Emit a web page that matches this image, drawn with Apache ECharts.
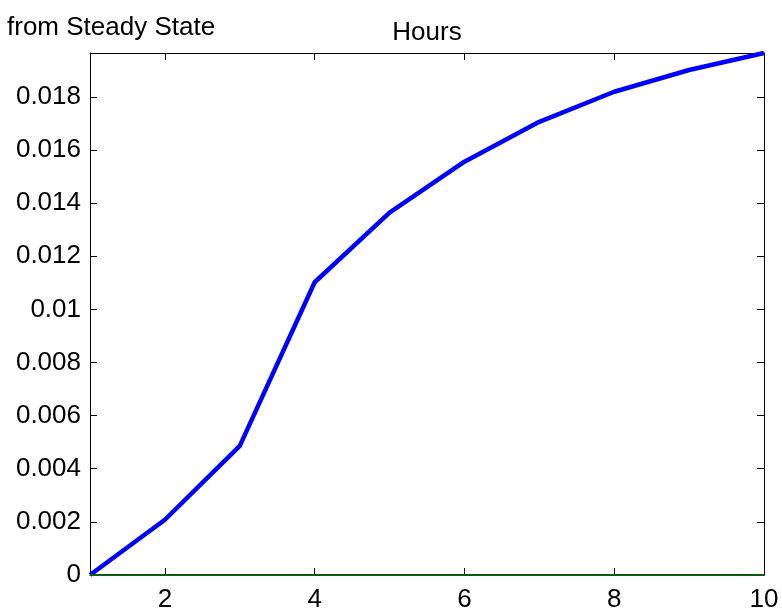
<!DOCTYPE html>
<html>
<head>
<meta charset="utf-8">
<script src="https://cdn.jsdelivr.net/npm/echarts@6/dist/echarts.min.js"></script>
<style>html,body{margin:0;padding:0;background:#fff;}#c{width:782px;height:613px;}</style>
</head>
<body>
<div id="c"></div>
<script>
const periods = [1, 2, 3, 4, 5, 6, 7, 8, 9, 10];
const hoursDeviation = [0, 0.00208, 0.00486, 0.01102, 0.01364, 0.01556, 0.01706, 0.01819, 0.01901, 0.01965];
const zeroLine = [0, 0, 0, 0, 0, 0, 0, 0, 0, 0];
const xTicks = [2, 4, 6, 8, 10];
const yTicks = [0, 0.002, 0.004, 0.006, 0.008, 0.01, 0.012, 0.014, 0.016, 0.018];
const titleText = 'Hours';
const yLabelText = 'from Steady State';

const FONT = '"Liberation Sans", Arial, Helvetica, sans-serif';
const FS = 26;
const yMax = hoursDeviation[hoursDeviation.length - 1];

const chart = echarts.init(document.getElementById('c'), null, {renderer: 'canvas'});
const axisLine = {show: true, onZero: false, lineStyle: {color: '#000', width: 1}};
const tick = {show: true, inside: true, length: 7, lineStyle: {color: '#000', width: 1}};

chart.setOption({
  animation: false,
  backgroundColor: '#fff',
  title: [
    {text: titleText, left: 427, top: 20, textAlign: 'center', padding: 0,
     textStyle: {fontFamily: FONT, fontSize: FS, fontWeight: 'normal', color: '#000'}},
    {text: yLabelText, left: 7, top: 15, padding: 0,
     textStyle: {fontFamily: FONT, fontSize: FS, fontWeight: 'normal', color: '#000'}}
  ],
  grid: {left: 90, right: 18, top: 53, bottom: 37, containLabel: false},
  xAxis: [
    {type: 'value', min: 1, max: 10, position: 'bottom',
     axisLine: axisLine,
     axisTick: Object.assign({}, tick, {customValues: xTicks}),
     axisLabel: {customValues: xTicks, margin: 12, fontFamily: FONT, fontSize: FS, color: '#000'},
     splitLine: {show: false}},
    {type: 'value', min: 1, max: 10, position: 'top',
     axisLine: axisLine,
     axisTick: Object.assign({}, tick, {customValues: xTicks}),
     axisLabel: {show: false},
     splitLine: {show: false}}
  ],
  yAxis: [
    {type: 'value', min: 0, max: yMax, position: 'left',
     axisLine: axisLine,
     axisTick: Object.assign({}, tick, {customValues: yTicks}),
     axisLabel: {customValues: yTicks, margin: 9, fontFamily: FONT, fontSize: FS, color: '#000',
       formatter: v => String(parseFloat(v.toFixed(4)))},
     splitLine: {show: false}},
    {type: 'value', min: 0, max: yMax, position: 'right',
     axisLine: axisLine,
     axisTick: Object.assign({}, tick, {customValues: yTicks}),
     axisLabel: {show: false},
     splitLine: {show: false}}
  ],
  series: [
    {type: 'line', xAxisIndex: 0, yAxisIndex: 0,
     data: periods.map((p, i) => [p, hoursDeviation[i]]),
     showSymbol: false, symbol: 'none',
     lineStyle: {color: '#0000ff', width: 4.5},
     z: 3},
    {type: 'line', xAxisIndex: 0, yAxisIndex: 0,
     data: periods.map((p, i) => [p, zeroLine[i]]),
     showSymbol: false, symbol: 'none',
     lineStyle: {color: '#0b5c0b', width: 2},
     z: 4}
  ]
});
</script>
</body>
</html>
